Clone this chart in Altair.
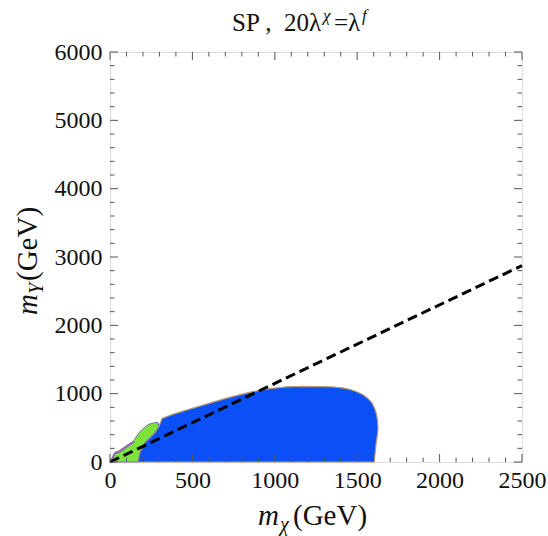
import altair as alt
import pandas as pd

# Axis ticks (GeV)
x_major = [0, 500, 1000, 1500, 2000, 2500]
x_minor = [v for v in range(0, 2501, 100) if v % 500]
y_major = [0, 1000, 2000, 3000, 4000, 5000, 6000]
y_minor = [v for v in range(0, 6001, 200) if v % 1000]

# Allowed region boundaries (m_chi, m_Y) in GeV
blue_mx = [170, 182, 212, 273, 297, 316, 376, 473, 576, 698, 790, 868, 970, 1074,
           1170, 1274, 1350, 1410, 1460, 1500, 1535, 1565, 1588, 1605, 1617,
           1624, 1626, 1620, 1614, 1608, 1602]
blue_my = [0, 139, 285, 431, 519, 636, 694, 767, 840, 928, 985, 1030, 1075, 1100,
           1108, 1104, 1098, 1085, 1060, 1025, 985, 930, 870, 790, 700,
           600, 475, 350, 256, 110, 0]

green_mx = [0, 30, 49, 140, 182, 231, 273, 291, 297, 273, 212, 182, 170]
green_my = [0, 139, 153, 300, 446, 548, 577, 577, 519, 431, 285, 139, 0]

purple_mx = [0, 28, 50, 140, 148, 58, 32, 8]
purple_my = [0, 140, 158, 305, 290, 138, 122, 0]

# Dashed reference line m_Y = 1.15 m_chi
line_mx = [0, 2500]
line_my = [0, 2875]

W, H = 412, 410
FONT = "Liberation Serif"

xs = alt.Scale(domain=[0, 2500], nice=False, zero=False)
ys = alt.Scale(domain=[0, 6000], nice=False, zero=False)
x_axis = alt.Axis(values=x_major, format="d", title=None, ticks=False, domain=False,
                  grid=False, labelFlush=False, labelPadding=6, labelFont=FONT,
                  labelFontSize=24, labelColor="#111111", labelOverlap=False)
y_axis = alt.Axis(values=y_major, format="d", title=None, ticks=False, domain=False,
                  grid=False, labelFlush=False, labelPadding=8, labelFont=FONT,
                  labelFontSize=24, labelColor="#111111", labelOverlap=False)


def region(mx, my, fill, stroke, sw):
    df = pd.DataFrame({"mx": mx + [mx[0]], "my": my + [my[0]],
                       "i": list(range(len(mx) + 1))})
    return alt.Chart(df).mark_line(fill=fill, stroke=stroke, strokeWidth=sw).encode(
        x=alt.X("mx:Q", scale=xs, axis=x_axis),
        y=alt.Y("my:Q", scale=ys, axis=y_axis),
        order="i:Q",
    )


blue = region(blue_mx, blue_my, "#0a50f6", "#b89c6c", 1.2)
green = region(green_mx, green_my, "#7ee23c", "#8a6aa8", 1.0)
purple = region(purple_mx, purple_my, "#9a62c8", "#8a6aa8", 0.6)

line = alt.Chart(pd.DataFrame({"mx": line_mx, "my": line_my})).mark_line(
    color="black", strokeWidth=3, strokeDash=[10, 5]
).encode(x=alt.X("mx:Q", scale=xs, axis=x_axis), y=alt.Y("my:Q", scale=ys, axis=y_axis))


def xticks(vals, length):
    df = pd.DataFrame({"v": vals})
    base = alt.Chart(df).mark_rule(color="#555555", strokeWidth=1)
    bottom = base.encode(x=alt.X("v:Q", scale=xs, axis=x_axis),
                         y=alt.value(H), y2=alt.value(H - length))
    top = base.encode(x=alt.X("v:Q", scale=xs, axis=x_axis),
                      y=alt.value(0), y2=alt.value(length))
    return [bottom, top]


def yticks(vals, length):
    df = pd.DataFrame({"v": vals})
    base = alt.Chart(df).mark_rule(color="#555555", strokeWidth=1)
    left = base.encode(y=alt.Y("v:Q", scale=ys, axis=y_axis),
                       x=alt.value(0), x2=alt.value(length))
    right = base.encode(y=alt.Y("v:Q", scale=ys, axis=y_axis),
                        x=alt.value(W), x2=alt.value(W - length))
    return [left, right]


def label(text, x, y, size, italic=False, angle=0):
    kw = dict(font=FONT, fontSize=size, align="left", baseline="alphabetic",
              color="#111111")
    if italic:
        kw["fontStyle"] = "italic"
    if angle:
        kw["angle"] = angle
    return alt.Chart(pd.DataFrame({"t": [text]})).mark_text(**kw).encode(
        x=alt.value(x), y=alt.value(y), text="t:N")


texts = [
    # title
    label("SP ,", 122, -21, 25),
    label("20λ", 174, -21, 25),
    label("χ", 213, -31, 17, italic=True),
    label("=λ", 224, -21, 25),
    label("f", 252, -31, 17, italic=True),
    # x label
    label("m", 148, 473, 29, italic=True),
    label("χ", 170, 479, 20, italic=True),
    label("(GeV)", 183, 473, 29),
    # y label
    label("m", -73, 263, 29, italic=True, angle=270),
    label("Y", -67, 242, 20, italic=True, angle=270),
    label("(GeV)", -73, 229, 29, angle=270),
]

layers = [blue, green, purple, line]
layers += xticks(x_major, 8) + xticks(x_minor, 4.5)
layers += yticks(y_major, 8) + yticks(y_minor, 4.5)
layers += texts

chart = alt.layer(*layers).properties(
    width=W, height=H,
    autosize=alt.AutoSizeParams(type="none"),
    padding={"left": 110, "top": 52, "right": 26, "bottom": 74},
).configure_view(stroke="#555555", strokeWidth=1.2).configure(background="white")

chart.save("out.html", embed_options={"renderer": "svg", "actions": False})
